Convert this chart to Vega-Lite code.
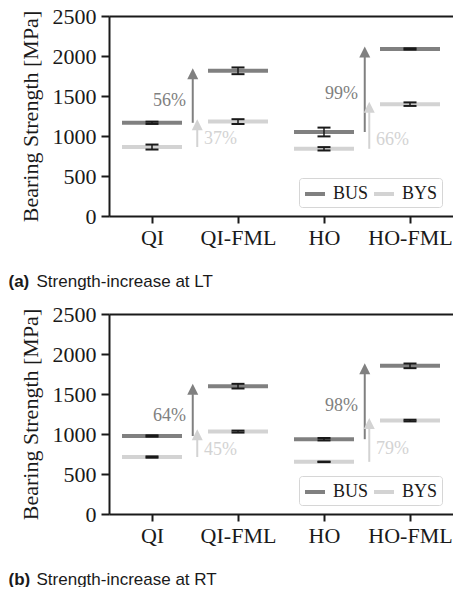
{
  "$schema": "https://vega.github.io/schema/vega-lite/v6.json",
  "background": "white",
  "padding": {"left": 8, "top": 5, "right": 0, "bottom": 0},
  "datasets": {
    "levels": [
      {"panel": "a", "material": "QI", "series": "BUS", "value": 1165, "err": 14},
      {"panel": "a", "material": "QI", "series": "BYS", "value": 862, "err": 31},
      {"panel": "a", "material": "QI-FML", "series": "BUS", "value": 1815, "err": 42},
      {"panel": "a", "material": "QI-FML", "series": "BYS", "value": 1180, "err": 30},
      {"panel": "a", "material": "HO", "series": "BUS", "value": 1050, "err": 55},
      {"panel": "a", "material": "HO", "series": "BYS", "value": 840, "err": 21},
      {"panel": "a", "material": "HO-FML", "series": "BUS", "value": 2088, "err": 8},
      {"panel": "a", "material": "HO-FML", "series": "BYS", "value": 1398, "err": 22},
      {"panel": "b", "material": "QI", "series": "BUS", "value": 975, "err": 8},
      {"panel": "b", "material": "QI", "series": "BYS", "value": 712, "err": 8},
      {"panel": "b", "material": "QI-FML", "series": "BUS", "value": 1598, "err": 29},
      {"panel": "b", "material": "QI-FML", "series": "BYS", "value": 1030, "err": 12},
      {"panel": "b", "material": "HO", "series": "BUS", "value": 935, "err": 15},
      {"panel": "b", "material": "HO", "series": "BYS", "value": 652, "err": 3},
      {"panel": "b", "material": "HO-FML", "series": "BUS", "value": 1852, "err": 29},
      {"panel": "b", "material": "HO-FML", "series": "BYS", "value": 1168, "err": 10}
    ],
    "arrows": [
      {"panel": "a", "material": "QI", "series": "BUS", "from": 1165, "to": 1815, "label": "56%", "ly": 1434},
      {"panel": "a", "material": "QI", "series": "BYS", "from": 862, "to": 1180, "label": "37%", "ly": 963},
      {"panel": "a", "material": "HO", "series": "BUS", "from": 1050, "to": 2088, "label": "99%", "ly": 1521},
      {"panel": "a", "material": "HO", "series": "BYS", "from": 840, "to": 1398, "label": "66%", "ly": 949},
      {"panel": "b", "material": "QI", "series": "BUS", "from": 975, "to": 1598, "label": "64%", "ly": 1229},
      {"panel": "b", "material": "QI", "series": "BYS", "from": 712, "to": 1030, "label": "45%", "ly": 806},
      {"panel": "b", "material": "HO", "series": "BUS", "from": 935, "to": 1852, "label": "98%", "ly": 1350},
      {"panel": "b", "material": "HO", "series": "BYS", "from": 652, "to": 1168, "label": "79%", "ly": 809}
    ]
  },
  "config": {
    "view": {"stroke": null},
    "concat": {"spacing": 14},
    "axis": {
      "grid": false,
      "domainColor": "#1a1a1a",
      "domainWidth": 2,
      "tickColor": "#1a1a1a",
      "tickWidth": 2,
      "labelColor": "#1a1a1a",
      "titleColor": "#1a1a1a",
      "labelFont": "Liberation Serif",
      "titleFont": "Liberation Serif",
      "titleFontWeight": "normal"
    },
    "axisY": {
      "orient": "left",
      "values": [0, 500, 1000, 1500, 2000, 2500],
      "format": "d",
      "labelFontSize": 22,
      "tickSize": 8,
      "labelPadding": 5,
      "titleFontSize": 22,
      "titlePadding": 10
    }
  },
  "resolve": {"legend": {"stroke": "independent"}},
  "vconcat": [
    {
      "width": 344,
      "height": 200,
      "resolve": {"axis": {"x": "independent"}},
      "layer": [
        {
          "data": {"name": "levels"},
          "transform": [{"filter": "datum.panel === 'a'"}],
          "mark": {"type": "tick", "size": 60, "thickness": 4, "opacity": 1},
          "encoding": {
            "x": {"field": "material", "type": "nominal", "sort": null,
              "scale": {"type": "point", "domain": ["QI", "QI-FML", "HO", "HO-FML"], "padding": 0.5},
              "axis": {"orient": "bottom", "labelAngle": 0, "labelFontSize": 22, "tickSize": 7, "labelPadding": 4,
                "title": "Strength-increase at LT", "titleFont": "Liberation Sans", "titleFontSize": 17,
                "titleAnchor": "start", "titleAlign": "left", "titleBaseline": "alphabetic", "titleX": -73, "titleY": 70}},
            "y": {"field": "value", "type": "quantitative", "title": "Bearing Strength [MPa]",
              "scale": {"domain": [0, 2500], "nice": false}},
            "fill": {"field": "series", "type": "nominal", "scale": {"domain": ["BUS", "BYS"], "range": ["#808080", "#d3d3d3"]}, "legend": null}
          }
        },
        {
          "data": {"name": "levels"},
          "transform": [{"filter": "datum.panel === 'a'"}],
          "mark": {"type": "errorbar", "color": "#1a1a1a", "opacity": 1,
            "rule": {"strokeWidth": 1.5, "color": "#1a1a1a", "opacity": 1},
            "ticks": {"size": 13, "thickness": 2, "color": "#1a1a1a", "opacity": 1}},
          "encoding": {
            "x": {"field": "material", "type": "nominal", "sort": null,
              "scale": {"type": "point", "domain": ["QI", "QI-FML", "HO", "HO-FML"], "padding": 0.5}, "axis": null},
            "y": {"field": "value", "type": "quantitative", "title": "Bearing Strength [MPa]", "scale": {"domain": [0, 2500], "nice": false}},
            "yError": {"field": "err"}
          }
        },
        {
          "data": {"name": "arrows"},
          "transform": [{"filter": "datum.panel === 'a'"}],
          "mark": {"type": "rule", "strokeWidth": 2, "y2Offset": 8},
          "encoding": {
            "x": {"field": "material", "type": "nominal", "sort": null,
              "scale": {"type": "point", "domain": ["QI", "QI-FML", "HO", "HO-FML"], "padding": 0.5},
              "axis": {"orient": "top", "labels": false, "ticks": false, "title": "(a)", "titleFont": "Liberation Sans",
                "titleFontWeight": "bold", "titleFontSize": 17, "titleAnchor": "start", "titleAlign": "left",
                "titleBaseline": "alphabetic", "titleAngle": 0, "titleX": -101, "titleY": 270}},
            "xOffset": {"field": "series", "type": "nominal", "scale": {"domain": ["BUS", "BYS"], "range": [38.5, 47.5]}},
            "y": {"field": "from", "type": "quantitative", "title": "Bearing Strength [MPa]", "scale": {"domain": [0, 2500], "nice": false}},
            "y2": {"field": "to"},
            "stroke": {"field": "series", "type": "nominal", "scale": {"domain": ["BUS", "BYS"], "range": ["#808080", "#d3d3d3"]},
              "legend": {"orient": "none", "legendX": 190, "legendY": 162, "direction": "horizontal", "title": null,
                "symbolType": "stroke", "symbolSize": 400, "symbolStrokeWidth": 4, "labelFont": "Liberation Serif",
                "labelFontSize": 18, "labelColor": "#1a1a1a", "labelOffset": 6, "columnPadding": -3, "padding": 4,
                "strokeColor": "#d6d6d6", "fillColor": "white", "cornerRadius": 3}}
          }
        },
        {
          "data": {"name": "arrows"},
          "transform": [{"filter": "datum.panel === 'a'"}],
          "mark": {"type": "point", "filled": true, "opacity": 1, "size": 121, "shape": "M0,-0.45L1,1.55L-1,1.55Z"},
          "encoding": {
            "x": {"field": "material", "type": "nominal", "sort": null,
              "scale": {"type": "point", "domain": ["QI", "QI-FML", "HO", "HO-FML"], "padding": 0.5}, "axis": null},
            "xOffset": {"field": "series", "type": "nominal", "scale": {"domain": ["BUS", "BYS"], "range": [38.5, 47.5]}},
            "y": {"field": "to", "type": "quantitative", "title": "Bearing Strength [MPa]", "scale": {"domain": [0, 2500], "nice": false}},
            "fill": {"field": "series", "type": "nominal", "scale": {"domain": ["BUS", "BYS"], "range": ["#808080", "#d3d3d3"]}, "legend": null}
          }
        },
        {
          "data": {"name": "arrows"},
          "transform": [{"filter": "datum.panel === 'a' && datum.series === 'BUS'"}],
          "mark": {"type": "text", "font": "Liberation Serif", "fontSize": 18, "align": "right", "baseline": "middle", "dx": 34},
          "encoding": {
            "x": {"field": "material", "type": "nominal", "sort": null,
              "scale": {"type": "point", "domain": ["QI", "QI-FML", "HO", "HO-FML"], "padding": 0.5}, "axis": null},
            "y": {"field": "ly", "type": "quantitative", "title": "Bearing Strength [MPa]", "scale": {"domain": [0, 2500], "nice": false}},
            "text": {"field": "label"},
            "fill": {"field": "series", "type": "nominal", "scale": {"domain": ["BUS", "BYS"], "range": ["#808080", "#d3d3d3"]}, "legend": null}
          }
        },
        {
          "data": {"name": "arrows"},
          "transform": [{"filter": "datum.panel === 'a' && datum.series === 'BYS'"}],
          "mark": {"type": "text", "font": "Liberation Serif", "fontSize": 18, "align": "left", "baseline": "middle", "dx": 52},
          "encoding": {
            "x": {"field": "material", "type": "nominal", "sort": null,
              "scale": {"type": "point", "domain": ["QI", "QI-FML", "HO", "HO-FML"], "padding": 0.5}, "axis": null},
            "y": {"field": "ly", "type": "quantitative", "title": "Bearing Strength [MPa]", "scale": {"domain": [0, 2500], "nice": false}},
            "text": {"field": "label"},
            "fill": {"field": "series", "type": "nominal", "scale": {"domain": ["BUS", "BYS"], "range": ["#808080", "#d3d3d3"]}, "legend": null}
          }
        }
      ]
    },
    {
      "width": 344,
      "height": 200,
      "resolve": {"axis": {"x": "independent"}},
      "layer": [
        {
          "data": {"name": "levels"},
          "transform": [{"filter": "datum.panel === 'b'"}],
          "mark": {"type": "tick", "size": 60, "thickness": 4, "opacity": 1},
          "encoding": {
            "x": {"field": "material", "type": "nominal", "sort": null,
              "scale": {"type": "point", "domain": ["QI", "QI-FML", "HO", "HO-FML"], "padding": 0.5},
              "axis": {"orient": "bottom", "labelAngle": 0, "labelFontSize": 22, "tickSize": 7, "labelPadding": 4,
                "title": "Strength-increase at RT", "titleFont": "Liberation Sans", "titleFontSize": 17,
                "titleAnchor": "start", "titleAlign": "left", "titleBaseline": "alphabetic", "titleX": -73, "titleY": 70}},
            "y": {"field": "value", "type": "quantitative", "title": "Bearing Strength [MPa]",
              "scale": {"domain": [0, 2500], "nice": false}},
            "fill": {"field": "series", "type": "nominal", "scale": {"domain": ["BUS", "BYS"], "range": ["#808080", "#d3d3d3"]}, "legend": null}
          }
        },
        {
          "data": {"name": "levels"},
          "transform": [{"filter": "datum.panel === 'b'"}],
          "mark": {"type": "errorbar", "color": "#1a1a1a", "opacity": 1,
            "rule": {"strokeWidth": 1.5, "color": "#1a1a1a", "opacity": 1},
            "ticks": {"size": 13, "thickness": 2, "color": "#1a1a1a", "opacity": 1}},
          "encoding": {
            "x": {"field": "material", "type": "nominal", "sort": null,
              "scale": {"type": "point", "domain": ["QI", "QI-FML", "HO", "HO-FML"], "padding": 0.5}, "axis": null},
            "y": {"field": "value", "type": "quantitative", "title": "Bearing Strength [MPa]", "scale": {"domain": [0, 2500], "nice": false}},
            "yError": {"field": "err"}
          }
        },
        {
          "data": {"name": "arrows"},
          "transform": [{"filter": "datum.panel === 'b'"}],
          "mark": {"type": "rule", "strokeWidth": 2, "y2Offset": 8},
          "encoding": {
            "x": {"field": "material", "type": "nominal", "sort": null,
              "scale": {"type": "point", "domain": ["QI", "QI-FML", "HO", "HO-FML"], "padding": 0.5},
              "axis": {"orient": "top", "labels": false, "ticks": false, "title": "(b)", "titleFont": "Liberation Sans",
                "titleFontWeight": "bold", "titleFontSize": 17, "titleAnchor": "start", "titleAlign": "left",
                "titleBaseline": "alphabetic", "titleAngle": 0, "titleX": -101, "titleY": 270}},
            "xOffset": {"field": "series", "type": "nominal", "scale": {"domain": ["BUS", "BYS"], "range": [38.5, 47.5]}},
            "y": {"field": "from", "type": "quantitative", "title": "Bearing Strength [MPa]", "scale": {"domain": [0, 2500], "nice": false}},
            "y2": {"field": "to"},
            "stroke": {"field": "series", "type": "nominal", "scale": {"domain": ["BUS", "BYS"], "range": ["#808080", "#d3d3d3"]},
              "legend": {"orient": "none", "legendX": 190, "legendY": 162, "direction": "horizontal", "title": null,
                "symbolType": "stroke", "symbolSize": 400, "symbolStrokeWidth": 4, "labelFont": "Liberation Serif",
                "labelFontSize": 18, "labelColor": "#1a1a1a", "labelOffset": 6, "columnPadding": -3, "padding": 4,
                "strokeColor": "#d6d6d6", "fillColor": "white", "cornerRadius": 3}}
          }
        },
        {
          "data": {"name": "arrows"},
          "transform": [{"filter": "datum.panel === 'b'"}],
          "mark": {"type": "point", "filled": true, "opacity": 1, "size": 121, "shape": "M0,-0.45L1,1.55L-1,1.55Z"},
          "encoding": {
            "x": {"field": "material", "type": "nominal", "sort": null,
              "scale": {"type": "point", "domain": ["QI", "QI-FML", "HO", "HO-FML"], "padding": 0.5}, "axis": null},
            "xOffset": {"field": "series", "type": "nominal", "scale": {"domain": ["BUS", "BYS"], "range": [38.5, 47.5]}},
            "y": {"field": "to", "type": "quantitative", "title": "Bearing Strength [MPa]", "scale": {"domain": [0, 2500], "nice": false}},
            "fill": {"field": "series", "type": "nominal", "scale": {"domain": ["BUS", "BYS"], "range": ["#808080", "#d3d3d3"]}, "legend": null}
          }
        },
        {
          "data": {"name": "arrows"},
          "transform": [{"filter": "datum.panel === 'b' && datum.series === 'BUS'"}],
          "mark": {"type": "text", "font": "Liberation Serif", "fontSize": 18, "align": "right", "baseline": "middle", "dx": 34},
          "encoding": {
            "x": {"field": "material", "type": "nominal", "sort": null,
              "scale": {"type": "point", "domain": ["QI", "QI-FML", "HO", "HO-FML"], "padding": 0.5}, "axis": null},
            "y": {"field": "ly", "type": "quantitative", "title": "Bearing Strength [MPa]", "scale": {"domain": [0, 2500], "nice": false}},
            "text": {"field": "label"},
            "fill": {"field": "series", "type": "nominal", "scale": {"domain": ["BUS", "BYS"], "range": ["#808080", "#d3d3d3"]}, "legend": null}
          }
        },
        {
          "data": {"name": "arrows"},
          "transform": [{"filter": "datum.panel === 'b' && datum.series === 'BYS'"}],
          "mark": {"type": "text", "font": "Liberation Serif", "fontSize": 18, "align": "left", "baseline": "middle", "dx": 52},
          "encoding": {
            "x": {"field": "material", "type": "nominal", "sort": null,
              "scale": {"type": "point", "domain": ["QI", "QI-FML", "HO", "HO-FML"], "padding": 0.5}, "axis": null},
            "y": {"field": "ly", "type": "quantitative", "title": "Bearing Strength [MPa]", "scale": {"domain": [0, 2500], "nice": false}},
            "text": {"field": "label"},
            "fill": {"field": "series", "type": "nominal", "scale": {"domain": ["BUS", "BYS"], "range": ["#808080", "#d3d3d3"]}, "legend": null}
          }
        }
      ]
    }
  ]
}
